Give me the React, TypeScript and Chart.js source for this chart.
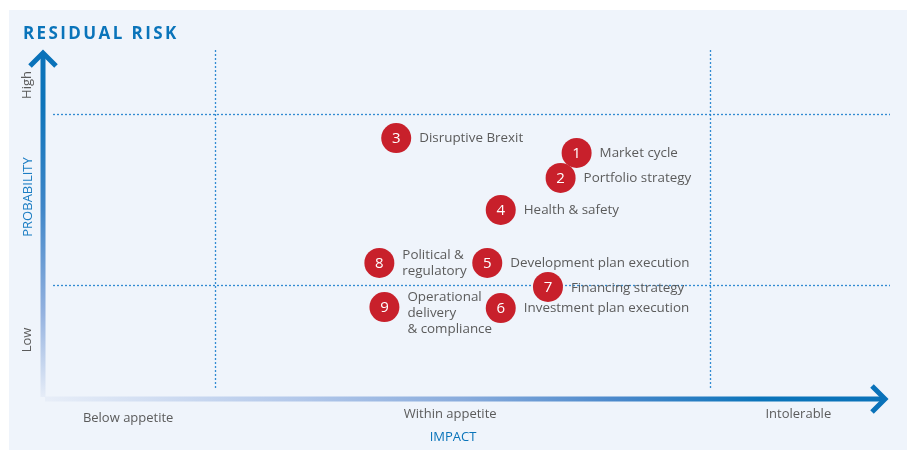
import React, { useEffect, useRef } from "react";
import { Chart, registerables } from "chart.js";

Chart.register(...registerables);

// ---- data ----
const riskIds = ["1", "2", "3", "4", "5", "6", "7", "8", "9"];
const riskNames = [
  ["Market cycle"],
  ["Portfolio strategy"],
  ["Disruptive Brexit"],
  ["Health & safety"],
  ["Development plan execution"],
  ["Investment plan execution"],
  ["Financing strategy"],
  ["Political &", "regulatory"],
  ["Operational", "delivery", "& compliance"],
];
const impactValues = [63.3, 61.4, 41.9, 54.3, 52.7, 54.3, 59.9, 39.9, 40.5];
const probabilityValues = [70.9, 63.7, 75.2, 54.5, 39.2, 26.2, 32.3, 39.2, 26.5];

const impactThresholds = [20.4, 79.1];
const probabilityThresholds = [32.9, 82.1];

const impactCategories = ["Below appetite", "Within appetite", "Intolerable"];
const impactCategoryPositions = [10.1, 48.3, 89.6];
const probabilityCategories = ["High", "Low"];
const probabilityCategoryPositions = [90.5, 17.0];

const chartTitle = "RESIDUAL RISK";
const xAxisTitle = "IMPACT";
const yAxisTitle = "PROBABILITY";

const FONT = '"Open Sans", "DejaVu Sans", sans-serif';
const BLUE = "#0A74BA";
const GRAY = "#5b5b5b";
const RED = "#C8202B";

const riskPlugin = {
  id: "riskMatrix",
  beforeDraw(chart: any) {
    const ctx = chart.ctx as CanvasRenderingContext2D;
    const { left, right, top, bottom } = chart.chartArea;
    const xs = chart.scales.x;
    const ys = chart.scales.y;
    ctx.save();
    ctx.fillStyle = "#ffffff";
    ctx.fillRect(0, 0, chart.width, chart.height);
    ctx.fillStyle = "#EFF4FB";
    ctx.fillRect(9, 10, chart.width - 9, chart.height - 10);

    // title
    ctx.fillStyle = BLUE;
    ctx.font = `bold 17px ${FONT}`;
    (ctx as any).letterSpacing = "2.4px";
    ctx.textBaseline = "alphabetic";
    ctx.textAlign = "left";
    ctx.fillText(chartTitle, 23, 39);
    (ctx as any).letterSpacing = "0px";

    // dotted threshold lines
    ctx.strokeStyle = "rgba(28,128,205,0.9)";
    ctx.lineWidth = 1.3;
    ctx.setLineDash([2, 2]);
    impactThresholds.forEach((v) => {
      const px = Math.round(xs.getPixelForValue(v)) + 0.5;
      ctx.beginPath();
      ctx.moveTo(px, top - 2);
      ctx.lineTo(px, bottom - 11);
      ctx.stroke();
    });
    probabilityThresholds.forEach((v) => {
      const py = Math.round(ys.getPixelForValue(v)) + 0.5;
      ctx.beginPath();
      ctx.moveTo(left + 10, py);
      ctx.lineTo(right + 4, py);
      ctx.stroke();
    });
    ctx.setLineDash([]);

    // vertical arrow
    const vg = ctx.createLinearGradient(0, top, 0, bottom);
    vg.addColorStop(0, "#0A72B9");
    vg.addColorStop(0.15, "#0D74BA");
    vg.addColorStop(0.45, "#3F86C8");
    vg.addColorStop(0.75, "#93B1DF");
    vg.addColorStop(1, "#E8EEF8");
    ctx.strokeStyle = vg;
    ctx.lineWidth = 5;
    ctx.lineCap = "butt";
    ctx.beginPath();
    ctx.moveTo(left, bottom - 2);
    ctx.lineTo(left, top + 2);
    ctx.stroke();
    ctx.strokeStyle = "#0A72B9";
    ctx.lineWidth = 5;
    ctx.lineJoin = "miter";
    ctx.beginPath();
    ctx.moveTo(left - 13, top + 14);
    ctx.lineTo(left, top + 1);
    ctx.lineTo(left + 13, top + 14);
    ctx.stroke();

    // horizontal arrow
    const hg = ctx.createLinearGradient(left, 0, right, 0);
    hg.addColorStop(0, "#E8EEF8");
    hg.addColorStop(0.3, "#B3C8EA");
    hg.addColorStop(0.5, "#88ABDC");
    hg.addColorStop(0.68, "#4A88CB");
    hg.addColorStop(0.85, "#0A74BA");
    hg.addColorStop(1, "#0A72B9");
    ctx.strokeStyle = hg;
    ctx.lineWidth = 5;
    ctx.beginPath();
    ctx.moveTo(left + 2, bottom);
    ctx.lineTo(right - 2, bottom);
    ctx.stroke();
    ctx.strokeStyle = "#0A72B9";
    ctx.beginPath();
    ctx.moveTo(right - 14, bottom - 13);
    ctx.lineTo(right - 1, bottom);
    ctx.lineTo(right - 14, bottom + 13);
    ctx.stroke();

    // axis category labels
    ctx.fillStyle = GRAY;
    ctx.font = `13px ${FONT}`;
    ctx.textAlign = "center";
    ctx.textBaseline = "middle";
    const catY = [418, 414, 414];
    impactCategories.forEach((t, i) => {
      ctx.fillText(t, xs.getPixelForValue(impactCategoryPositions[i]), catY[i]);
    });
    ctx.fillStyle = BLUE;
    ctx.fillText(xAxisTitle, 453, 437);

    probabilityCategories.forEach((t, i) => {
      ctx.save();
      ctx.translate(27, ys.getPixelForValue(probabilityCategoryPositions[i]));
      ctx.rotate(-Math.PI / 2);
      ctx.fillStyle = GRAY;
      ctx.fillText(t, 0, 0);
      ctx.restore();
    });
    ctx.save();
    ctx.translate(28, 197);
    ctx.rotate(-Math.PI / 2);
    ctx.fillStyle = "#1C7DC3";
    ctx.fillText(yAxisTitle, 0, 0);
    ctx.restore();
    ctx.restore();
  },
  afterDatasetsDraw(chart: any) {
    const ctx = chart.ctx as CanvasRenderingContext2D;
    const meta = chart.getDatasetMeta(0);
    ctx.save();
    meta.data.forEach((pt: any, i: number) => {
      ctx.fillStyle = "#ffffff";
      ctx.font = `15px ${FONT}`;
      ctx.textAlign = "center";
      ctx.textBaseline = "middle";
      ctx.fillText(riskIds[i], pt.x, pt.y + 0.5);
      const lines = riskNames[i];
      ctx.fillStyle = GRAY;
      ctx.font = `13.4px ${FONT}`;
      ctx.textAlign = "left";
      const lh = 16;
      let y0 = pt.y - ((lines.length - 1) * lh) / 2;
      if (lines.length === 3) y0 = pt.y - 10;
      if (i === 6) y0 = pt.y + 1.5;
      lines.forEach((l, k) => ctx.fillText(l, pt.x + 23, y0 + k * lh));
    });
    ctx.restore();
  },
};

export default function App() {
  const ref = useRef<HTMLCanvasElement | null>(null);
  useEffect(() => {
    if (!ref.current) return;
    const chart = new Chart(ref.current, {
      type: "scatter",
      data: {
        datasets: [
          {
            data: impactValues.map((x, i) => ({ x, y: probabilityValues[i] })),
            backgroundColor: RED,
            borderWidth: 0,
            pointRadius: 15,
            pointHoverRadius: 15,
          },
        ],
      },
      options: {
        animation: false,
        responsive: false,
        devicePixelRatio: 1,
        layout: { padding: { left: 43, right: 21, top: 52, bottom: 51 } },
        scales: {
          x: { display: false, min: 0, max: 100 },
          y: { display: false, min: 0, max: 100 },
        },
        plugins: { legend: { display: false }, tooltip: { enabled: false } },
        events: [],
      },
      plugins: [riskPlugin],
    });
    return () => chart.destroy();
  }, []);
  return (
    <div style={{ position: "absolute", left: 0, top: 0 }}>
      <canvas ref={ref} width={907} height={450} style={{ display: "block", width: 907, height: 450 }} />
    </div>
  );
}
